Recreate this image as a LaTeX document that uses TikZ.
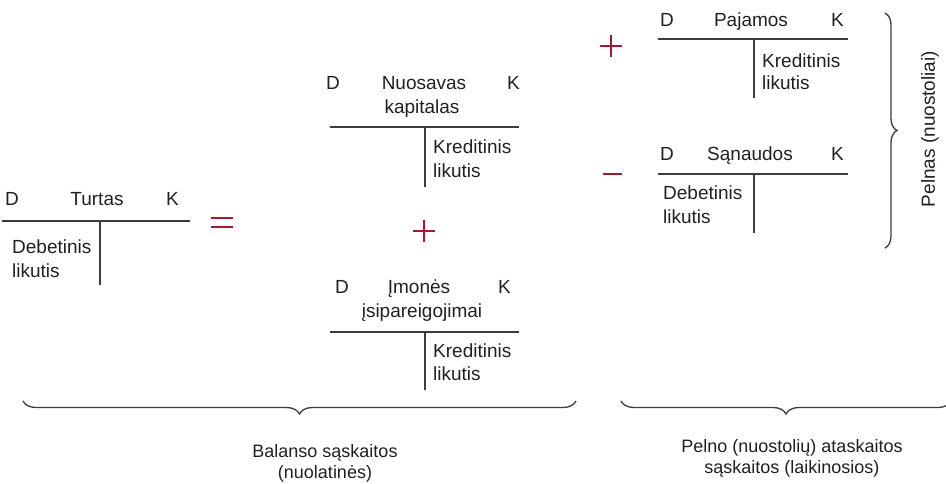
\documentclass[tikz,border=0pt]{standalone}
\usepackage{fontspec}
\setmainfont{Liberation Sans}
\usetikzlibrary{decorations.pathreplacing}
\definecolor{ink}{HTML}{231F20}
\definecolor{rule}{HTML}{3C3C3C}
\definecolor{signred}{HTML}{A71930}
\begin{document}
\begin{tikzpicture}[x=1pt,y=-1pt,
  lbl/.style={inner sep=0pt,text=ink,font=\fontsize{19}{23}\selectfont},
  lblw/.style={lbl,anchor=base west},
  lblc/.style={lbl,anchor=base},
  caption/.style={inner sep=0pt,text=ink,anchor=base,font=\fontsize{18}{22}\selectfont},
  tline/.style={draw=rule,line width=1.5pt},
  sign/.style={draw=signred,line width=2.8pt},
  bracket/.style={draw=rule,line width=1.3pt,decorate,decoration={brace,amplitude=13pt}}]
\useasboundingbox (0,0) rectangle (946,483);

% --- Turtas
\node[lblw] (tD) at (5,205) {D};
\node[lblc] (tN) at (97,205) {Turtas};
\node[lblw] (tK) at (166,205) {K};
\coordinate (tL) at (2,221); \coordinate (tR) at (190,221);
\coordinate (tVt) at (100,221); \coordinate (tVb) at (100,285);
\draw[tline] (tL) -- (tR);
\draw[tline] (tVt) -- (tVb);
\node[lblw] (tB1) at (12,253) {Debetinis};
\node[lblw] (tB2) at (12,277) {likutis};

% equals sign
\coordinate (eqA) at (211,218); \coordinate (eqB) at (233,218);
\coordinate (eqC) at (211,227); \coordinate (eqD) at (233,227);
\draw[sign] (eqA) -- (eqB) (eqC) -- (eqD);

% --- Nuosavas kapitalas
\node[lblw] (nD) at (326,89) {D};
\node[lblc] (nN1) at (424,89) {Nuosavas};
\node[lblc] (nN2) at (422,113) {kapitalas};
\node[lblw] (nK) at (507,89) {K};
\coordinate (nL) at (330,127); \coordinate (nR) at (519,127);
\coordinate (nVt) at (425,127); \coordinate (nVb) at (425,187);
\draw[tline] (nL) -- (nR);
\draw[tline] (nVt) -- (nVb);
\node[lblw] (nB1) at (433,153) {Kreditinis};
\node[lblw] (nB2) at (433,177) {likutis};

% plus between the two credit accounts
\coordinate (p1c) at (424,231);
\draw[sign] ([xshift=-11pt]p1c) -- ([xshift=11pt]p1c)
  ([yshift=-11pt]p1c) -- ([yshift=11pt]p1c);

% --- Imones isipareigojimai
\node[lblw] (iD) at (335,293) {D};
\node[lblc] (iN1) at (419,293) {Įmonės};
\node[lblc] (iN2) at (422,317) {įsipareigojimai};
\node[lblw] (iK) at (498,293) {K};
\coordinate (iL) at (330,332); \coordinate (iR) at (519,332);
\coordinate (iVt) at (425,332); \coordinate (iVb) at (425,390);
\draw[tline] (iL) -- (iR);
\draw[tline] (iVt) -- (iVb);
\node[lblw] (iB1) at (433,357) {Kreditinis};
\node[lblw] (iB2) at (433,380) {likutis};

% --- Pajamos
\node[lblw] (pD) at (660,26) {D};
\node[lblc] (pN) at (751,26) {Pajamos};
\node[lblw] (pK) at (831,26) {K};
\coordinate (pL) at (658,39); \coordinate (pR) at (848,39);
\coordinate (pVt) at (754,39); \coordinate (pVb) at (754,98);
\draw[tline] (pL) -- (pR);
\draw[tline] (pVt) -- (pVb);
\node[lblw] (pB1) at (762,67) {Kreditinis};
\node[lblw] (pB2) at (762,89) {likutis};

\coordinate (p2c) at (611,46);
\draw[sign] ([xshift=-11pt]p2c) -- ([xshift=11pt]p2c)
  ([yshift=-11pt]p2c) -- ([yshift=11pt]p2c);

% --- Sanaudos
\node[lblw] (sD) at (660,160) {D};
\node[lblc] (sN) at (750,160) {Sąnaudos};
\node[lblw] (sK) at (831,160) {K};
\coordinate (sL) at (658,174); \coordinate (sR) at (848,174);
\coordinate (sVt) at (754,174); \coordinate (sVb) at (754,233);
\draw[tline] (sL) -- (sR);
\draw[tline] (sVt) -- (sVb);
\node[lblw] (sB1) at (663,199) {Debetinis};
\node[lblw] (sB2) at (663,223) {likutis};

\coordinate (mc) at (612,174);
\draw[sign] ([xshift=-9.5pt]mc) -- ([xshift=9.5pt]mc);

% --- braces and their captions
\coordinate (rbT) at (885,13); \coordinate (rbB) at (885,248);
\draw[bracket,decoration={amplitude=12pt}] (rbT) -- (rbB);
\node[inner sep=0pt,text=ink,font=\fontsize{19}{23}\selectfont,rotate=90] (pel) at (930,129) {Pelnas (nuostoliai)};

\coordinate (b1R) at (576,401); \coordinate (b1L) at (23,401);
\draw[bracket] (b1R) -- (b1L);
\node[caption] (bal1) at (325,457) {Balanso sąskaitos};
\node[caption] (bal2) at (325,478) {(nuolatinės)};

\begin{scope}
\clip (0,0) rectangle (946,483);
\coordinate (b2R) at (951,401); \coordinate (b2L) at (621,401);
\draw[bracket] (b2R) -- (b2L);
\end{scope}
\node[caption] (pa1) at (792,452) {Pelno (nuostolių) ataskaitos};
\node[caption] (pa2) at (792,473) {sąskaitos (laikinosios)};
\end{tikzpicture}
\end{document}
